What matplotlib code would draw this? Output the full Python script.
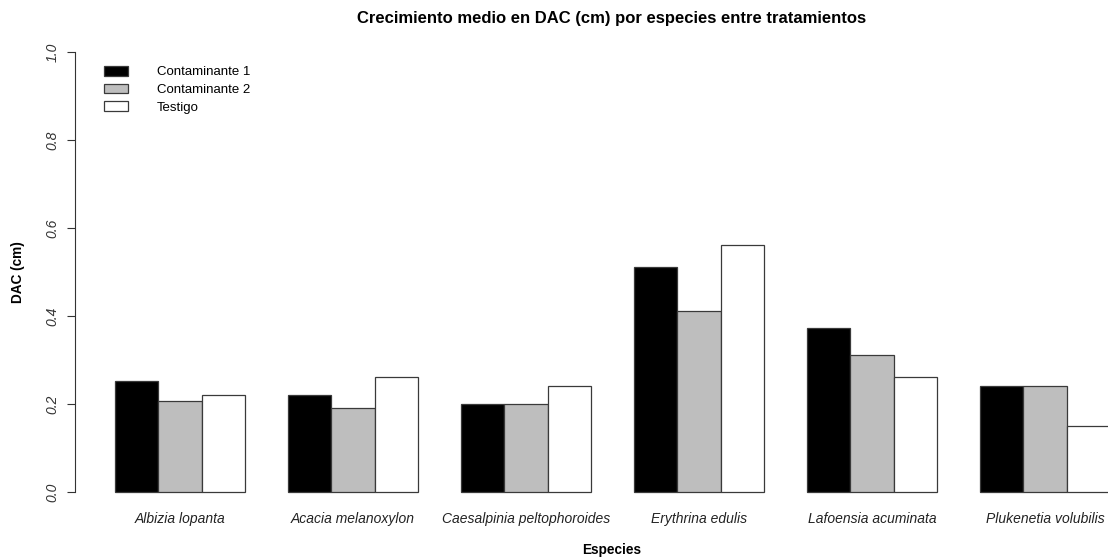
import matplotlib
matplotlib.use("Agg")
import matplotlib.pyplot as plt
from matplotlib.patches import Patch
import numpy as np

plt.rcParams['font.family'] = ['Liberation Sans', 'DejaVu Sans']

species = ["Albizia lopanta", "Acacia melanoxylon", "Caesalpinia peltophoroides",
           "Erythrina edulis", "Lafoensia acuminata", "Plukenetia volubilis"]
series_names = ["Contaminante 1", "Contaminante 2", "Testigo"]
contaminante1 = [0.252, 0.220, 0.200, 0.511, 0.372, 0.240]
contaminante2 = [0.207, 0.190, 0.200, 0.411, 0.311, 0.240]
testigo = [0.220, 0.261, 0.240, 0.561, 0.261, 0.150]
colors = ["#000000", "#BEBEBE", "#FFFFFF"]

W, H = 1108, 558
fig = plt.figure(figsize=(W / 100, H / 100), dpi=100)

unit = 43.25
x0px = 71.75
xlim = (0.08, 24.92)
ylim = (-0.04, 1.04)
left = (x0px + xlim[0] * unit) / W
width = (xlim[1] - xlim[0]) * unit / W
bottom_px = 492 + 0.04 * 440
top_px = 52 - 0.04 * 440
ax = fig.add_axes([left, (H - bottom_px) / H, width, (bottom_px - top_px) / H])
ax.set_xlim(*xlim)
ax.set_ylim(*ylim)

data = [contaminante1, contaminante2, testigo]
n = len(species)
for i, (vals, col, name) in enumerate(zip(data, colors, series_names)):
    xs = [1 + 4 * g + i for g in range(n)]
    ax.bar(xs, vals, width=1.0, align='edge', color=col, edgecolor='#3a3a3a',
           linewidth=0.9, label=name, clip_on=True)

centers = [1 + 4 * g + 1.5 for g in range(n)]
ax.set_xticks(centers)
ax.set_xticklabels(species, fontsize=10.0, style='italic', color='#222222')
ax.tick_params(axis='x', length=0, pad=2)

ax.set_yticks([0.0, 0.2, 0.4, 0.6, 0.8, 1.0])
ax.set_yticklabels(["0.0", "0.2", "0.4", "0.6", "0.8", "1.0"], rotation=90,
                   va='center', fontsize=10.0, style='italic', color='#333333')
ax.tick_params(axis='y', length=5.5, width=0.8, pad=6, color='#333333')

for s in ['top', 'right', 'bottom']:
    ax.spines[s].set_visible(False)
ax.spines['left'].set_bounds(0, 1)
ax.spines['left'].set_linewidth(0.8)
ax.spines['left'].set_color('#333333')

fig.text(612 / W, 1 - 18 / H, "Crecimiento medio en DAC (cm) por especies entre tratamientos",
         ha='center', va='center', fontsize=12.0, fontweight='bold')
fig.text(612 / W, 1 - 550 / H, "Especies", ha='center', va='center',
         fontsize=9.8, fontweight='bold')
fig.text(18 / W, 1 - 272 / H, "DAC (cm)", ha='center', va='center', rotation=90,
         fontsize=9.8, fontweight='bold')

handles = [Patch(facecolor=c, edgecolor='#3a3a3a', linewidth=0.9) for c in colors]
lfs = 9.5
fpx = lfs / 72 * 100
leg = fig.legend(handles, series_names, loc='upper left',
                 bbox_to_anchor=(100 / W, 1 - 62 / H), frameon=False,
                 fontsize=lfs, handlelength=24 / fpx, handleheight=10 / fpx,
                 handletextpad=29 / fpx, labelspacing=0.40, borderaxespad=0, borderpad=0.3)

fig.savefig("out.png", dpi=100)
